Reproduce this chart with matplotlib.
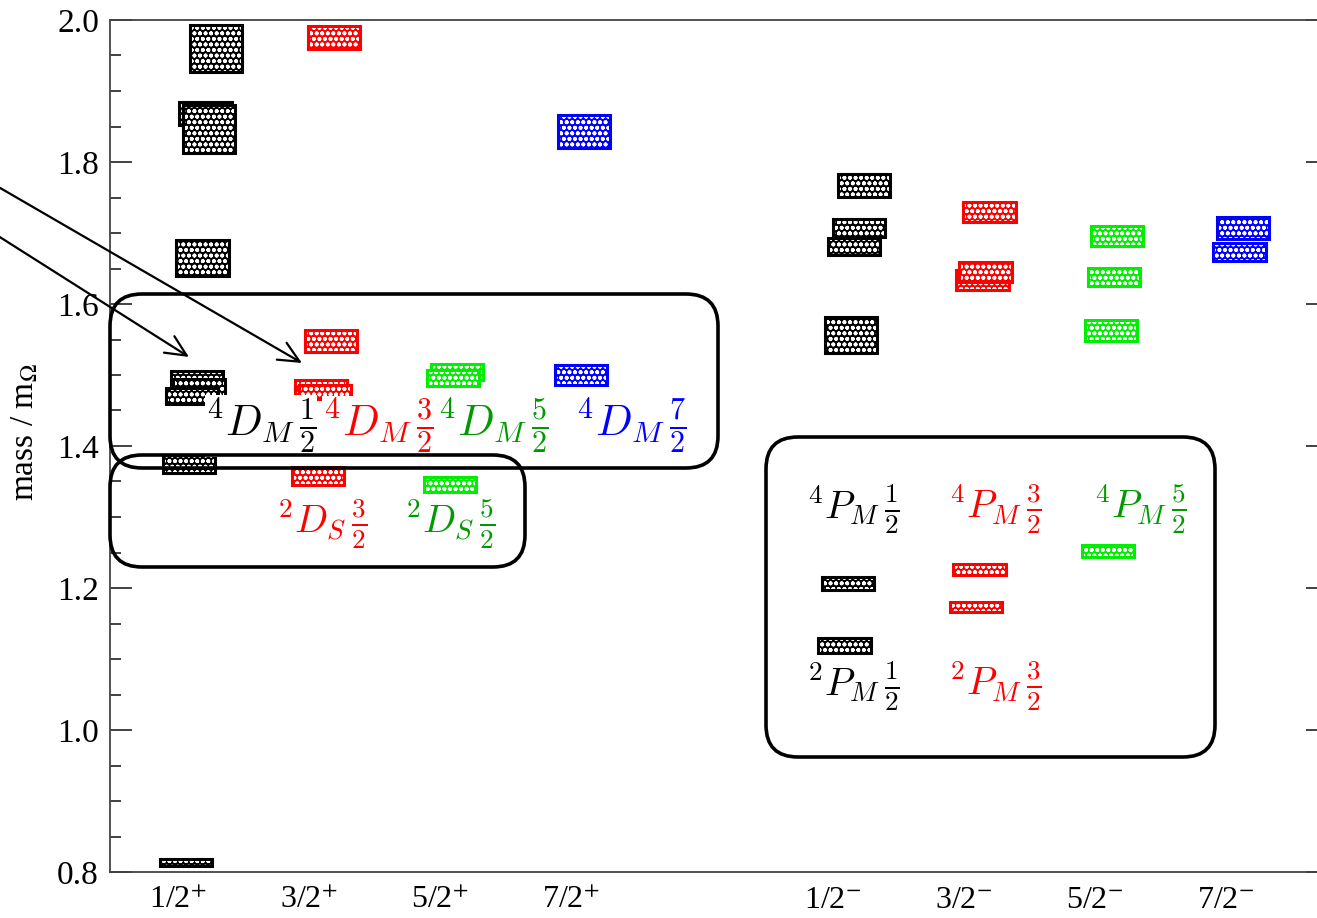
import matplotlib
matplotlib.use('Agg')
import matplotlib.pyplot as plt
from matplotlib.patches import Rectangle, FancyBboxPatch, FancyArrowPatch
from matplotlib.ticker import MultipleLocator

plt.rcParams['mathtext.fontset'] = 'stix'
plt.rcParams['font.family'] = ['Liberation Serif', 'DejaVu Serif']
plt.rcParams['hatch.linewidth'] = 1.2

W, H, DPI = 1317, 918, 100

# ---------------- data ----------------
categories = ['1/2', '3/2', '5/2', '7/2', '1/2', '3/2', '5/2', '7/2']
parities = ['+', '+', '+', '+', '-', '-', '-', '-']
cat_pos = [1, 2, 3, 4, 6, 7, 8, 9]
cat_colors = ['black', 'red', '#00ee00', 'blue', 'black', 'red', '#00ee00', 'blue']

# each level: category index, small horizontal shift, mass, half-height (error)
lvl_cat = [0, 0, 0, 0, 0, 0, 0, 0, 0,
           1, 1, 1, 1, 1,
           2, 2, 2,
           3, 3,
           4, 4, 4, 4, 4, 4,
           5, 5, 5, 5, 5,
           6, 6, 6, 6,
           7, 7]
lvl_dx = [0.290, 0.210, 0.237, 0.187, 0.145, 0.160, 0.107, 0.084, 0.061,
          0.191, 0.168, 0.092, 0.122, 0.069,
          0.130, 0.099, 0.076,
          0.099, 0.076,
          0.237, 0.198, 0.160, 0.137, 0.115, 0.088,
          0.195, 0.141, 0.164, 0.118, 0.092,
          0.168, 0.145, 0.122, 0.099,
          0.130, 0.103]
lvl_mass = [1.960, 1.868, 1.846, 1.665, 1.494, 1.482, 1.470, 1.375, 0.813,
            1.975, 1.548, 1.483, 1.476, 1.358,
            1.504, 1.496, 1.346,
            1.843, 1.500,
            1.767, 1.707, 1.681, 1.556, 1.206, 1.119,
            1.730, 1.634, 1.645, 1.226, 1.173,
            1.696, 1.638, 1.563, 1.252,
            1.707, 1.673]
lvl_err = [0.033, 0.016, 0.034, 0.025, 0.011, 0.013, 0.011, 0.013, 0.005,
           0.016, 0.015, 0.010, 0.010, 0.013,
           0.011, 0.011, 0.011,
           0.023, 0.014,
           0.016, 0.013, 0.012, 0.025, 0.009, 0.011,
           0.014, 0.014, 0.014, 0.008, 0.007,
           0.014, 0.013, 0.015, 0.008,
           0.015, 0.013]

# annotation labels: (text, color)
label_texts = [r'$^4D_M\,\frac{1}{2}$', r'$^4D_M\,\frac{3}{2}$', r'$^4D_M\,\frac{5}{2}$', r'$^4D_M\,\frac{7}{2}$',
               r'$^2D_S\,\frac{3}{2}$', r'$^2D_S\,\frac{5}{2}$',
               r'$^4P_M\,\frac{1}{2}$', r'$^4P_M\,\frac{3}{2}$', r'$^4P_M\,\frac{5}{2}$',
               r'$^2P_M\,\frac{1}{2}$', r'$^2P_M\,\frac{3}{2}$']
label_colors = ['black', 'red', '#009a00', 'blue',
                'red', '#009a00',
                'black', 'red', '#009a00',
                'black', 'red']

# ---------------- figure ----------------
fig = plt.figure(figsize=(W / DPI, H / DPI), dpi=DPI)
fig.patch.set_facecolor('white')
ax = fig.add_axes([110 / W, 46 / H, (1328 - 110) / W, (872 - 20) / H])
ax.set_xlim(0.48, 9.78)
ax.set_ylim(0.8, 2.0)

box_w = 0.4
for c, dx, m, e in zip(lvl_cat, lvl_dx, lvl_mass, lvl_err):
    xc = cat_pos[c] + dx
    col = cat_colors[c]
    ax.add_patch(Rectangle((xc - box_w / 2, m - e), box_w, 2 * e,
                           facecolor=col, edgecolor='white', hatch='ooo', lw=0))
    ax.add_patch(Rectangle((xc - box_w / 2, m - e), box_w, 2 * e,
                           facecolor='none', edgecolor=col, lw=2.2))

ax.yaxis.set_major_locator(MultipleLocator(0.2))
ax.yaxis.set_minor_locator(MultipleLocator(0.05))
ax.tick_params(axis='y', which='major', direction='in', length=16, width=1.3,
               left=True, right=True, labelsize=24, pad=8, color='#333333')
ax.tick_params(axis='y', which='minor', direction='in', length=8, width=1.3,
               left=True, right=True, color='#333333')
ax.set_yticks([0.8, 1.0, 1.2, 1.4, 1.6, 1.8, 2.0])
ax.set_yticklabels(['0.8', '1.0', '1.2', '1.4', '1.6', '1.8', '2.0'])
ax.set_xticks(cat_pos)
ax.set_xticklabels([f'{c}$^{{{p}}}$' for c, p in zip(categories, parities)])
ax.tick_params(axis='x', length=0, labelsize=23, pad=10)
for sp in ax.spines.values():
    sp.set_linewidth(1.3)
    sp.set_color('#444444')


def px(x, y):
    return (x / DPI, (H - y) / DPI)


fig.text(*px(25, 432), r'mass / m$_\Omega$', rotation=90, ha='center', va='center',
         fontsize=24, transform=fig.dpi_scale_trans)

# labels
label_xy = [(261, 426), (378, 426), (493, 426), (631, 426),
            (322, 524), (450, 524),
            (853, 509), (995, 509), (1140, 509),
            (853, 686), (995, 686)]
for i, (t, col) in enumerate(zip(label_texts, label_colors)):
    fs = 31 if i < 4 else 28
    kw = {}
    if i < 4:
        kw['bbox'] = dict(facecolor='white', edgecolor='none', pad=0.5)
    fig.text(*px(*label_xy[i]), t, color=col, fontsize=fs, ha='center', va='center',
             math_fontfamily='cm', transform=fig.dpi_scale_trans, zorder=4, **kw)

# rounded boxes (pixel coords: x0, y_top, x1, y_bottom)
for x0, y0, x1, y1 in [(110, 294, 718, 468), (110, 455, 525, 567), (766, 437, 1215, 757)]:
    bl = px(x0, y1)
    fig.patches.append(FancyBboxPatch(bl, (x1 - x0) / DPI, (y1 - y0) / DPI,
                                      boxstyle='round,pad=0,rounding_size=0.32',
                                      transform=fig.dpi_scale_trans, fill=False,
                                      lw=2.6, ec='black', zorder=5, figure=fig))

# arrows
for (xa, ya), (xb, yb) in [((-5, 185), (302, 363)), ((-5, 234), (189, 357))]:
    fig.patches.append(FancyArrowPatch(px(xa, ya), px(xb, yb),
                                       arrowstyle='->,head_length=0.75,head_width=0.35',
                                       mutation_scale=20, lw=1.6, color='black',
                                       shrinkA=0, shrinkB=0,
                                       transform=fig.dpi_scale_trans, zorder=5, figure=fig))

fig.savefig('out.png', dpi=DPI)
